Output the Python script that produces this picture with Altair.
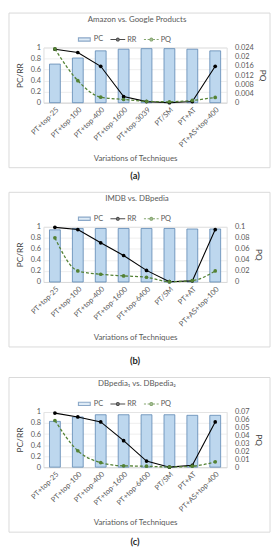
import altair as alt
import pandas as pd

series_names = ["PC", "RR", "PQ"]

titles = ["Amazon vs. Google Products", "IMDB vs. DBpedia", "DBpedia\u2081 vs. DBpedia\u2082"]
captions = ["(a)", "(b)", "(c)"]

tech_a = ["PT+top-25", "PT+top-100", "PT+top-400", "PT+top-1600", "PT+top-3039", "PT/SM", "PT+AT", "PT+AS+top-400"]
pc_a = [0.70, 0.81, 0.94, 0.97, 0.98, 0.98, 0.97, 0.94]
rr_a = [0.97, 0.91, 0.66, 0.11, 0.02, 0.0, 0.02, 0.66]
pq_a = [0.0234, 0.0096, 0.0024, 0.0014, 0.0006, 0.0004, 0.0010, 0.0023]
pq_ticks_a = [0, 0.004, 0.008, 0.012, 0.016, 0.02, 0.024]

tech_b = ["PT+top-25", "PT+top-100", "PT+top-400", "PT+top-1600", "PT+top-6400", "PT/SM", "PT+AT", "PT+AS+top-100"]
pc_b = [0.945, 0.97, 0.97, 0.97, 0.97, 0.97, 0.96, 0.96]
rr_b = [0.99, 0.95, 0.71, 0.48, 0.21, 0.005, 0.02, 0.95]
pq_b = [0.080, 0.020, 0.014, 0.011, 0.0085, 0.0005, 0.0025, 0.020]
pq_ticks_b = [0, 0.02, 0.04, 0.06, 0.08, 0.1]

tech_c = ["PT+top-25", "PT+top-100", "PT+top-400", "PT+top-1600", "PT+top-6400", "PT/SM", "PT+AT", "PT+AS+top-400"]
pc_c = [0.83, 0.91, 0.95, 0.95, 0.95, 0.95, 0.94, 0.94]
rr_c = [0.98, 0.91, 0.82, 0.48, 0.11, 0.0, 0.035, 0.82]
pq_c = [0.0592, 0.0208, 0.0058, 0.0017, 0.0012, 0.0002, 0.0012, 0.0067]
pq_ticks_c = [0, 0.01, 0.02, 0.03, 0.04, 0.05, 0.06, 0.07]

left_ticks = [0, 0.2, 0.4, 0.6, 0.8, 1]
caption_offsets = [3, 9, 5]

W = 186
H = 56
FONT = "Lato"
TXT = "#595959"

fill_colors = ["#bdd7ee", "#000000", "#548235"]
stroke_colors = ["#5b84b1", "#000000", "#548235"]
dot = "M-0.2,0A0.2,0.2,0,1,0,0.2,0A0.2,0.2,0,1,0,-0.2,0Z"
shape_paths = [
    "M-0.8,-0.22H0.8V0.22H-0.8Z",
    "M-1,0H-0.2M0.2,0H1" + dot,
    "M-1,0H-0.72M-0.5,0H-0.22M0.22,0H0.5M0.72,0H1" + dot,
]


def panel(title, caption, cap_off, tech, pc, rr, pq, pq_ticks):
    df = pd.DataFrame({"tech": tech, "PC": pc, "RR": rr, "PQ": pq})
    base = alt.Chart(df)
    x = alt.X(
        "tech:N", sort=tech,
        scale=alt.Scale(paddingInner=0, paddingOuter=0),
        axis=alt.Axis(title="Variations of Techniques", labelAngle=-45, labelFontSize=7.5,
                      labelColor=TXT, labelFont=FONT, ticks=False, domainColor="#d9d9d9",
                      labelPadding=3, titlePadding=6, titleFontSize=8, titleFontWeight="normal",
                      titleColor=TXT, titleFont=FONT, grid=False),
    )
    left_axis = alt.Axis(title="PC/RR", values=left_ticks, format="~g", labelFontSize=7.5,
                         labelColor=TXT, labelFont=FONT, ticks=False, domain=False,
                         gridColor="#e6e6e6", gridWidth=0.7, labelPadding=3,
                         titleFontSize=8.5, titleFontWeight="normal", titleColor="#404040",
                         titleFont=FONT, titlePadding=6)
    left_scale = alt.Scale(domain=[0, 1], nice=False)

    frame = alt.Chart(pd.DataFrame({"k": [0]})).mark_rect(
        fill="transparent", stroke="#d9d9d9", strokeWidth=1
    ).encode(x=alt.value(-35), x2=alt.value(W + 44), y=alt.value(-35), y2=alt.value(H + 66))

    header = alt.Chart(pd.DataFrame({"t": [title]})).mark_text(
        font=FONT, fontSize=8, color=TXT
    ).encode(text="t:N", x=alt.value(W / 2 + 2), y=alt.value(-28))

    bars = base.mark_bar(size=11, fill="#bdd7ee", stroke="#5b84b1", strokeWidth=0.8).encode(
        x=x, y=alt.Y("PC:Q", scale=left_scale, axis=left_axis)
    )
    rr_line = base.mark_line(color="black", strokeWidth=1.1).encode(
        x=x, y=alt.Y("RR:Q", scale=left_scale, axis=left_axis)
    )
    rr_pts = base.mark_point(filled=True, color="black", size=14, opacity=1).encode(
        x=x, y=alt.Y("RR:Q", scale=left_scale, axis=left_axis)
    )

    leg = alt.Legend(orient="none", legendX=33, legendY=-17, direction="horizontal", title=None,
                     labelFontSize=7.5, labelColor=TXT, labelFont=FONT, symbolSize=225,
                     columnPadding=4, labelOffset=1, symbolStrokeWidth=1.1)
    carrier = alt.Chart(pd.DataFrame({"series": series_names})).transform_filter("false").mark_point(
        filled=True
    ).encode(
        fill=alt.Fill("series:N", scale=alt.Scale(domain=series_names, range=fill_colors), legend=leg),
        stroke=alt.Stroke("series:N", scale=alt.Scale(domain=series_names, range=stroke_colors), legend=leg),
        shape=alt.Shape("series:N", scale=alt.Scale(domain=series_names, range=shape_paths), legend=leg),
    )

    right_axis = alt.Axis(title="PQ", orient="right", values=pq_ticks, format="~g", labelFontSize=7.5,
                          labelColor=TXT, labelFont=FONT, ticks=False, domain=False, grid=False,
                          labelPadding=8, titleFontSize=8.5, titleFontWeight="normal",
                          titleColor="#404040", titleFont=FONT, titlePadding=4)
    right_scale = alt.Scale(domain=[0, pq_ticks[-1]], nice=False)
    pq_line = base.mark_line(color="#548235", strokeWidth=1.3, strokeDash=[3, 2],
                             interpolate="monotone").encode(
        x=x, y=alt.Y("PQ:Q", scale=right_scale, axis=right_axis)
    )
    pq_pts = base.mark_point(filled=True, color="#548235", size=14, opacity=1).encode(
        x=x, y=alt.Y("PQ:Q", scale=right_scale, axis=right_axis)
    )

    left = alt.layer(frame, bars, rr_line, rr_pts, header, carrier)
    right = alt.layer(pq_line, pq_pts)
    return alt.layer(left, right, title=alt.TitleParams(
        caption, orient="bottom", fontSize=9.5, fontWeight="bold", color="#262626",
        font=FONT, offset=cap_off, anchor="middle")
    ).resolve_scale(y="independent").properties(width=W, height=H)


pa = panel(titles[0], captions[0], caption_offsets[0], tech_a, pc_a, rr_a, pq_a, pq_ticks_a)
pb = panel(titles[1], captions[1], caption_offsets[1], tech_b, pc_b, rr_b, pq_b, pq_ticks_b)
pcc = panel(titles[2], captions[2], caption_offsets[2], tech_c, pc_c, rr_c, pq_c, pq_ticks_c)

chart = alt.vconcat(pa, pb, pcc, spacing=10, padding=0).resolve_scale(
    fill="independent", stroke="independent", shape="independent"
).resolve_legend(
    fill="independent", stroke="independent", shape="independent"
).configure_view(strokeWidth=0).configure(font=FONT, background="white")

chart.save("out.html", embed_options={"renderer": "svg", "actions": False})
